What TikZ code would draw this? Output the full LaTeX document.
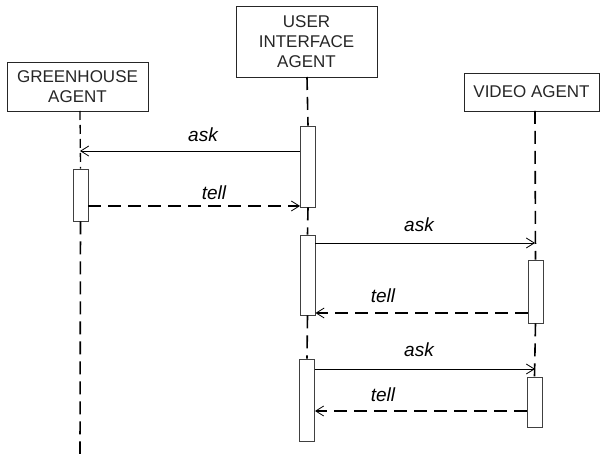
\documentclass[tikz,border=0pt]{standalone}
\usepackage{fontspec}
\setmainfont{Liberation Sans}
\usetikzlibrary{arrows.meta}
\begin{document}
\begin{tikzpicture}[x=1pt,y=-1pt,
  agentbox/.style={draw=black!85,line width=0.8pt,rectangle,inner sep=0pt,align=center,
    font=\fontsize{17}{20}\selectfont,text=black!85},
  actbox/.style={draw=black!75,line width=0.9pt,fill=white,rectangle,inner sep=0pt,minimum width=15pt},
  life/.style={line width=1.6pt,dash pattern=on 13pt off 7pt},
  lifethin/.style={line width=1.3pt,dash pattern=on 9pt off 5pt},
  askmsg/.style={line width=0.8pt,-{Straight Barb[length=8pt,width=10pt,line width=0.8pt]}},
  tellmsg/.style={line width=1.6pt,dash pattern=on 13pt off 7pt,-{Straight Barb[length=8pt,width=10pt,line width=0.8pt]}},
  lbl/.style={font=\fontsize{19}{22}\selectfont\itshape,anchor=base,inner sep=0pt}]
\useasboundingbox (0,0) rectangle (600,454);
% agent boxes
\node[agentbox,minimum width=141pt,minimum height=49pt] (gh) at (77.5,86.5) {GREENHOUSE\\AGENT};
\node[agentbox,minimum width=141pt,minimum height=71pt] (ui) at (306.5,41.5) {USER\\INTERFACE\\AGENT};
\node[agentbox,minimum width=135pt,minimum height=38pt] (vid) at (531.5,92) {VIDEO AGENT};
% lifeline anchors
\coordinate (ghL) at (80,111);
\coordinate (uiL) at (307,77);
\coordinate (vidL) at (535,111);
\coordinate (ghEnd) at (80,454);
% activation boxes
\node[actbox,minimum height=52pt] (gh1) at (80.5,195) {};
\node[actbox,minimum height=81pt] (ui1) at (308,166.5) {};
\node[actbox,minimum height=80pt] (ui2) at (307.5,275) {};
\node[actbox,minimum height=82pt] (ui3) at (307,400) {};
\node[actbox,minimum height=63pt] (vid1) at (535.5,291.5) {};
\node[actbox,minimum height=50pt] (vid2) at (534.5,402) {};
% lifelines
\draw[lifethin] (ghL) -- (gh1.north);
\draw[life] (gh1.south) -- (ghEnd);
\draw[life] (uiL) -- (ui1.north);
\draw[life] (ui1.south) -- (ui2.north);
\draw[life] (ui2.south) -- (ui3.north);
\draw[life] (vidL) -- (vid1.north);
\draw[life] (vid1.south) -- (vid2.north);
% messages
\draw[askmsg] (ui1.west |- 0,151) -- (ghL |- 0,151);
\node[lbl] (l1) at (203,142) {ask};
\draw[tellmsg] (gh1.east |- 0,206) -- (ui1.west |- 0,206);
\node[lbl] (l2) at (214,200) {tell};
\draw[askmsg] (ui2.east |- 0,243) -- (vidL |- 0,243);
\node[lbl] (l3) at (419,232) {ask};
\draw[tellmsg] (vid1.west |- 0,313) -- (ui2.east |- 0,313);
\node[lbl] (l4) at (383,303) {tell};
\draw[askmsg] (ui3.east |- 0,369) -- (vidL |- 0,369);
\node[lbl] (l5) at (419,356) {ask};
\draw[tellmsg] (vid2.west |- 0,411) -- (ui3.east |- 0,411);
\node[lbl] (l6) at (383,401) {tell};
\end{tikzpicture}
\end{document}
